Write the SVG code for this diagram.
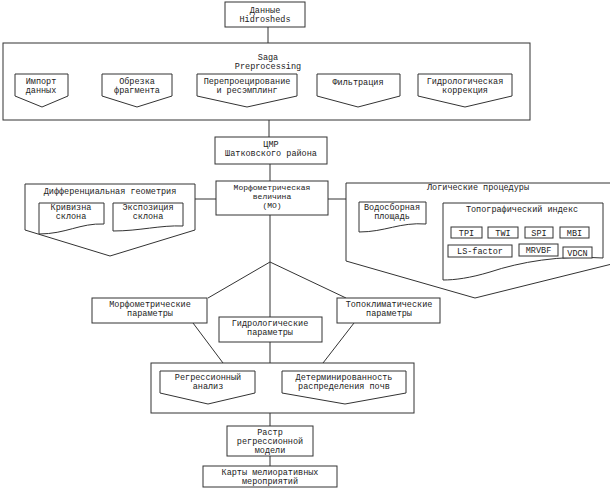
<svg xmlns="http://www.w3.org/2000/svg" width="610" height="489" viewBox="0 0 610 489">
<style>
.s{fill:#fff;stroke:#333;stroke-width:1}
.c{fill:none;stroke:#333;stroke-width:1}
text{font-family:"Liberation Mono","DejaVu Sans Mono",monospace;font-size:8.5px;fill:#222;text-anchor:middle}
.sm{font-size:8px}
</style>
<rect width="610" height="489" fill="#fff"/>
<g id="connectors">
<path class="c" d="M268,27V43 M269,120V137 M270,164V181 M270,215V363 M68,82H102 M172,82H197 M297,82H317 M400,82H418 M195,199H216 M328,199H346 M270,262L208,298 M270,262L346,298 M193,323L223,363 M354,323L323,363 M255,381H282 M270,413V426 M270,456V466"/>
</g>
<g id="n-hidrosheds"><rect class="s" x="225" y="2" width="80" height="25"/><text x="265" y="13">Данные</text><text x="265" y="22">Hidrosheds</text></g>
<g id="n-saga"><rect class="s" x="3" y="43" width="527" height="77"/><text x="268" y="60">Saga</text><text x="268" y="69">Preprocessing</text></g>
<g id="n-import"><path class="s" d="M15,74H68V96L42,107L15,96Z"/><text x="41" y="84">Импорт</text><text x="41" y="93">данных</text></g>
<g id="n-crop"><path class="s" d="M102,74H172V96L137,107L102,96Z"/><text x="137" y="84">Обрезка</text><text x="137" y="93">фрагмента</text></g>
<g id="n-reproj"><path class="s" d="M197,74H297V96L247,107L197,96Z"/><text x="247" y="84">Перепроецирование</text><text x="247" y="93">и ресэмплинг</text></g>
<g id="n-filter"><path class="s" d="M317,74H400V96L358,107L317,96Z"/><text x="358" y="85">Фильтрация</text></g>
<g id="n-hydrocorr"><path class="s" d="M418,74H512V96L465,107L418,96Z"/><text x="465" y="84">Гидрологическая</text><text x="465" y="93">коррекция</text></g>
<g id="n-dem"><rect class="s" x="215" y="137" width="112" height="27"/><text x="271" y="147">ЦМР</text><text x="271" y="156">Шатковского района</text></g>
<g id="n-mv"><rect class="s" x="216" y="181" width="112" height="34"/><text class="sm" x="272" y="189.5">Морфометрическая</text><text class="sm" x="272" y="198.5">величина</text><text class="sm" x="272" y="207.5">(МО)</text></g>
<g id="n-diffgeo"><path class="s" d="M25,184H195V230L110,256L25,230Z"/><text x="110" y="194">Дифференциальная геометрия</text>
<path class="s" d="M39,203H104V224C80,223 66,234 39,234Z"/><text x="71" y="210">Кривизна</text><text x="71" y="219">склона</text>
<path class="s" d="M113,203H183V226C160,225 140,231 113,231Z"/><text x="148" y="210">Экспозиция</text><text x="148" y="219">склона</text></g>
<g id="n-logic"><path class="s" d="M346,183H612V264L475,298L346,261Z"/><text x="478" y="190">Логические процедуры</text>
<path class="s" d="M359,202H426V224C400,222 385,232 359,232Z"/><text x="392" y="210">Водосборная</text><text x="392" y="219">площадь</text>
<path class="s" d="M443,203H603V258C560,255 520,262 490,272C470,278 455,280 443,280Z"/><text x="522" y="212">Топографический индекс</text>
<rect class="s" x="451" y="227" width="31" height="11"/><text x="466.5" y="235.5">TPI</text>
<rect class="s" x="488" y="227" width="30" height="11"/><text x="503" y="235.5">TWI</text>
<rect class="s" x="525" y="227" width="28" height="11"/><text x="539" y="235.5">SPI</text>
<rect class="s" x="560" y="227" width="29" height="11"/><text x="574.5" y="235.5">MBI</text>
<rect class="s" x="448" y="245" width="64" height="12"/><text x="480" y="254">LS-factor</text>
<rect class="s" x="519" y="244" width="39" height="12"/><text x="538.5" y="253">MRVBF</text>
<rect class="s" x="563" y="247" width="29" height="11"/><text x="577.5" y="255.5">VDCN</text></g>
<g id="n-morph"><rect class="s" x="92" y="298" width="115" height="25"/><text x="150" y="307">Морфометрические</text><text x="150" y="316">параметры</text></g>
<g id="n-hydro"><rect class="s" x="219" y="317" width="103" height="25"/><text x="270" y="326">Гидрологические</text><text x="270" y="335">параметры</text></g>
<g id="n-topo"><rect class="s" x="337" y="298" width="103" height="25"/><text x="389" y="307">Топоклиматические</text><text x="389" y="316">параметры</text></g>
<g id="n-regbox"><rect class="s" x="151" y="363" width="263" height="50"/>
<path class="s" d="M160,371H255V393L208,404L160,393Z"/><text x="208" y="380">Регрессионный</text><text x="208" y="389">анализ</text>
<path class="s" d="M282,371H406V393L345,404L282,393Z"/><text x="344" y="380">Детерминированность</text><text x="344" y="389">распределения почв</text></g>
<g id="n-raster"><rect class="s" x="227" y="426" width="86" height="30"/><text x="270" y="435">Растр</text><text x="270" y="444">регрессионной</text><text x="270" y="453">модели</text></g>
<g id="n-maps"><rect class="s" x="203" y="466" width="134" height="21"/><text x="270" y="475">Карты мелиоративных</text><text x="270" y="484">мероприятий</text></g>
</svg>
